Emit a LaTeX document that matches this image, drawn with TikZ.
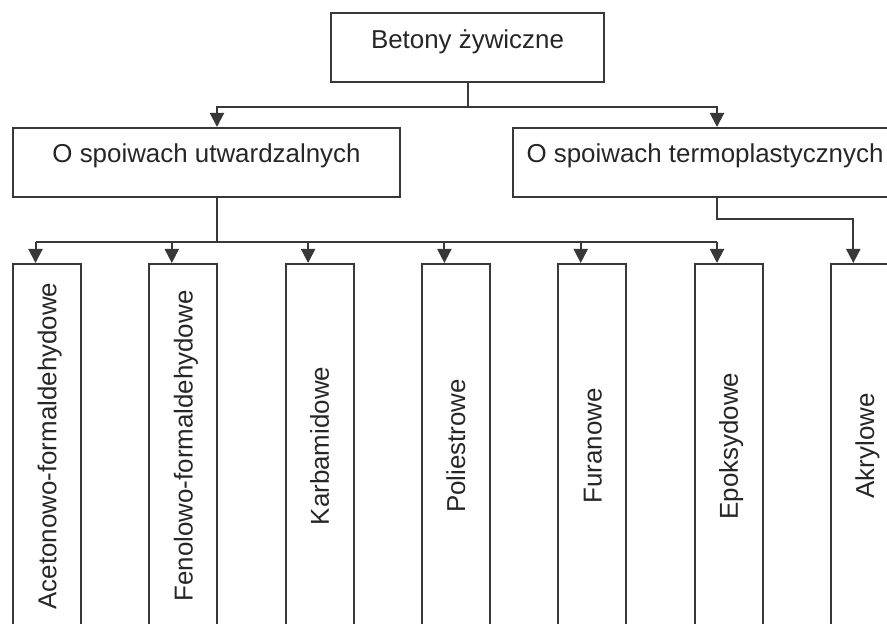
\documentclass[tikz,border=0pt]{standalone}
\usepackage{fontspec}
\setmainfont{Liberation Sans}
\usetikzlibrary{arrows.meta,calc}
\definecolor{ink}{HTML}{262626}
\definecolor{edge}{HTML}{383838}
\def\gap{136.3}
\tikzset{
  box/.style={draw=edge,line width=1pt,inner sep=0pt,text=ink,
    font=\fontsize{12.95pt}{15pt}\selectfont},
  headbox/.style={box,text height=17.5pt,text depth=17pt},
  leaf/.style={box,rotate=90,minimum width=182pt,minimum height=34pt,
    text height=9.3pt,text depth=0pt},
  link/.style={edge,line width=1pt},
  arr/.style={link,-{Triangle[length=7pt,width=7pt]}},
}
\begin{document}
\begin{tikzpicture}[x=0.5pt,y=-0.5pt]
\clip (0,0) rectangle (887,624);

% ---------------------------------------------------------------- heads
\node[headbox,minimum width=136.5pt] (root) at (467.5,48) {Betony żywiczne};
\node[headbox,minimum width=193.5pt] (lmid) at (206.5,162.5) {O spoiwach utwardzalnych};
\node[headbox,minimum width=192pt] (rmid) at (705,162.5) {O spoiwach termoplastycznych};

% ---------------------------------------------------------------- leaves (rotated: .east is the top)
\foreach \t [count=\i] in {Acetonowo-formaldehydowe,Fenolowo-formaldehydowe,
    Karbamidowe,Poliestrowe,Furanowe,Epoksydowe,Akrylowe}
  {\node[leaf] (b\i) at ({47+(\i-1)*\gap},446) {\t};
   \coordinate (t\i) at ($(b\i.east)+(-11.5,0)$);}

% ---------------------------------------------------------------- connectors
\coordinate (bus1) at (0,107);
\coordinate (bus2) at (0,242);
\coordinate (bus3) at (0,219);
\coordinate (lx) at (217,0);
\coordinate (rx) at (717,0);

\draw[link] (root.south) -- (root.south |- bus1);
\draw[arr] (root.south |- bus1) -| (lmid.north -| lx);
\draw[arr] (root.south |- bus1) -| (rmid.north -| rx);

\draw[link] (lmid.south -| lx) -- (lx |- bus2);
\draw[link] (t1 |- bus2) -- (t6 |- bus2);
\foreach \i in {1,...,6} {\draw[arr] (t\i |- bus2) -- (t\i);}
\draw[arr] (rmid.south -| rx) |- (t7 |- bus3) -- (t7);

\end{tikzpicture}
\end{document}
